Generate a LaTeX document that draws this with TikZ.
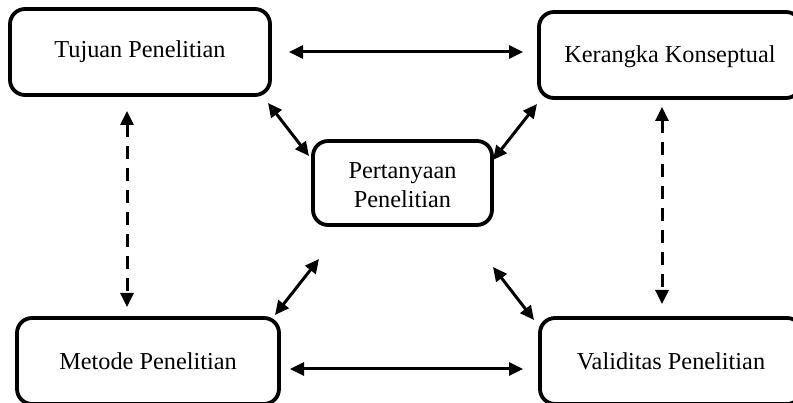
\documentclass[tikz,border=0pt]{standalone}
\usepackage{fontspec}
\setmainfont{Liberation Serif}
\usetikzlibrary{arrows.meta}
\begin{document}
\begin{tikzpicture}[x=1pt,y=-1pt,
  box/.style={draw,line width=3.8pt,rounded corners=15pt,align=center,inner sep=0pt,
    font=\fontsize{24.3}{29}\selectfont},
  link/.style={line width=3pt,{Triangle[length=14pt,width=13pt]}-{Triangle[length=14pt,width=13pt]}},
  dlink/.style={link,dash pattern=on 13pt off 9pt}]
\useasboundingbox (0,0) rectangle (793,403);
\clip (0,0) rectangle (793,403);
\node[box,minimum width=260pt,minimum height=86pt] (tuj) at (140,52) {Tujuan Penelitian};
\node[box,minimum width=262pt,minimum height=86pt] (ker) at (670,55) {\raisebox{-2pt}[\height][\depth]{Kerangka Konseptual}};
\node[box,minimum width=179pt,minimum height=84pt] (per) at (402.5,183) {\raisebox{-4pt}[\height][\depth]{\begin{tabular}{@{}c@{}}Pertanyaan\\Penelitian\end{tabular}}};
\node[box,minimum width=262pt,minimum height=86pt] (met) at (148,361) {Metode Penelitian};
\node[box,minimum width=262pt,minimum height=86pt] (val) at (671,361) {Validitas Penelitian};
% connector end points
\coordinate (a1) at (289,52);  \coordinate (a2) at (523,52);
\coordinate (b1) at (290,369); \coordinate (b2) at (523,369);
\coordinate (c1) at (268,103); \coordinate (c2) at (309,156);
\coordinate (d1) at (537,104); \coordinate (d2) at (493,160);
\coordinate (e1) at (275,315); \coordinate (e2) at (319,259);
\coordinate (f1) at (493,267); \coordinate (f2) at (534,320);
\coordinate (g1) at (127,111); \coordinate (g2) at (127,307);
\coordinate (h1) at (662,107); \coordinate (h2) at (662,304);
\draw[link] (a1) -- (a2);
\draw[link] (b1) -- (b2);
\draw[link] (c1) -- (c2);
\draw[link] (d1) -- (d2);
\draw[link] (e1) -- (e2);
\draw[link] (f1) -- (f2);
\draw[dlink] (g1) -- (g2);
\draw[dlink] (h1) -- (h2);
\end{tikzpicture}
\end{document}
